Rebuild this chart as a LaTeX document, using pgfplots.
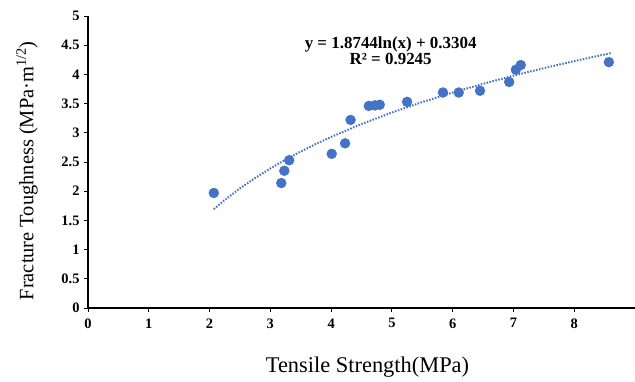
\documentclass[border=0pt]{standalone}
\usepackage{pgfplots}
\pgfplotsset{compat=1.18}
\usepackage{fontspec}
\setmainfont{Liberation Serif}
\usetikzlibrary{calc}
\definecolor{ptblue}{RGB}{68,114,196}
\begin{document}
\begin{tikzpicture}
\begin{axis}[
  name=ax,
  scale only axis,
  width=547bp, height=292bp,
  xmin=0, xmax=9, ymin=0, ymax=5,
  axis lines=left,
  axis line style={-, line width=1.2pt},
  xtick={0,1,...,9},
  xticklabels={0,1,2,3,4,5,6,7,8,},
  ytick={0,0.5,...,5},
  yticklabels={0,0.5,1,1.5,2,2.5,3,3.5,4,4.5,5},
  tick style={black, line width=0.8pt},
  tick align=outside,
  major tick length=4bp,
  ticklabel style={font=\fontsize{14.5}{15}\selectfont\bfseries},
  xticklabel style={yshift=-3bp},
  yticklabel style={xshift=-1bp},
  /pgf/number format/assume math mode=true,
  xlabel={Tensile Strength(MPa)},
  ylabel={Fracture Toughness (MPa·m\textsuperscript{1/2})},
  xlabel style={font=\fontsize{22.5}{24}\selectfont, at={(axis description cs:0.511,-0.202)}, anchor=center},
  ylabel style={font=\fontsize{20.5}{22}\selectfont, at={(axis description cs:-0.1115,0.47)}, anchor=center},
  clip=false,
]
\addplot[ptblue, line width=2bp, dash pattern=on 1.5bp off 1.5bp] coordinates {
(2.07,1.694) (2.25,1.850) (2.5,2.048) (2.75,2.226) (3,2.390) (3.25,2.540) (3.5,2.679) (3.75,2.808) (4,2.929) (4.5,3.150) (5,3.347) (5.5,3.526) (6,3.689) (6.5,3.839) (7,3.978) (7.5,4.107) (8,4.228) (8.6,4.364)
};
\addplot[only marks, mark=*, mark size=5pt, mark options={fill=ptblue, draw=ptblue}] coordinates {
(2.07,1.97) (3.18,2.14) (3.23,2.35) (3.31,2.53) (4.01,2.64) (4.23,2.82) (4.32,3.22) (4.62,3.46) (4.72,3.47) (4.80,3.48) (5.25,3.53) (5.84,3.69) (6.10,3.69) (6.45,3.72) (6.93,3.87) (7.04,4.08) (7.12,4.16) (8.57,4.21)
};
\node[font=\fontsize{17}{17}\selectfont\bfseries, align=center, inner sep=0pt] at (axis cs:4.98,4.40) {y = 1.8744ln(x) + 0.3304\\[-1pt]R² = 0.9245};
\end{axis}
\pgfresetboundingbox
\path ($(ax.south west)+(-88bp,-73bp)$) rectangle ($(ax.north east)+(0bp,16bp)$);
\end{tikzpicture}
\end{document}
